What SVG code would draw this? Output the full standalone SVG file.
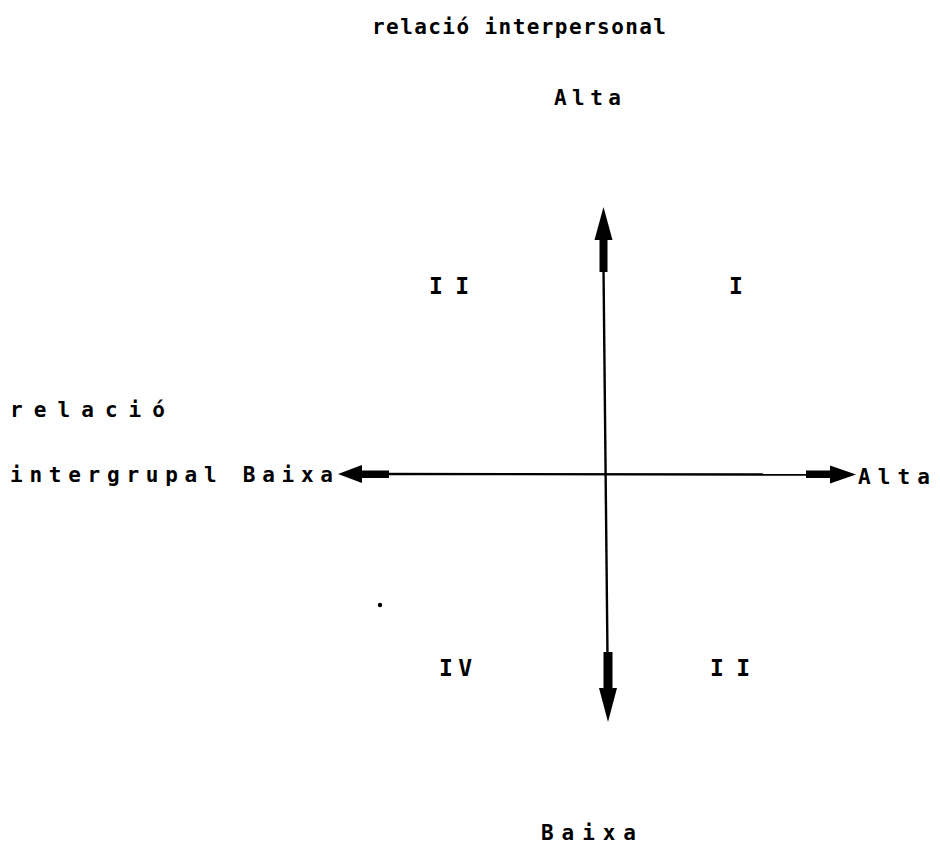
<svg xmlns="http://www.w3.org/2000/svg" width="940" height="867" viewBox="0 0 940 867">
<style>
text{font-family:"DejaVu Sans Mono","Liberation Mono",monospace;font-weight:bold;font-size:21px;fill:#000}
.q{font-size:23px}
.thin{stroke:#000;stroke-width:2.4;fill:none}
.thick{fill:#000;stroke:none}
</style>
<rect width="940" height="867" fill="#fff"/>
<g id="connectors">
  <g id="vertical-axis">
    <path class="thin" d="M603.5 268 L607.5 656"/>
    <rect class="thick" x="599.5" y="236" width="8" height="36"/>
    <polygon class="thick" points="603.5,207 594.5,240 612.5,240"/>
    <rect class="thick" x="603.5" y="652" width="9" height="38"/>
    <polygon class="thick" points="599,688 617,688 608,722"/>
  </g>
  <g id="horizontal-axis">
    <path class="thin" d="M380 474 L812 474.5"/>
    <rect class="thick" x="355" y="470.5" width="34" height="7.5"/>
    <polygon class="thick" points="338,474 362,465 362,483"/>
    <rect class="thick" x="806" y="470.5" width="28" height="7.5"/>
    <polygon class="thick" points="830,465.5 830,483.5 856,474.5"/>
  </g>
</g>
<g id="title-y"><text x="372" y="34" textLength="294" lengthAdjust="spacing">relació interpersonal</text></g>
<g id="y-high"><text x="554" y="105" textLength="67" lengthAdjust="spacing">Alta</text></g>
<g id="y-low"><text x="541" y="840" textLength="95" lengthAdjust="spacing">Baixa</text></g>
<g id="title-x1"><text x="10" y="417" textLength="155" lengthAdjust="spacing">relació</text></g>
<g id="title-x2"><text x="10" y="482" textLength="323" lengthAdjust="spacing">intergrupal Baixa</text></g>
<g id="x-high"><text x="858" y="484" textLength="72" lengthAdjust="spacing">Alta</text></g>
<g id="q-II-top"><text class="q" x="429" y="294" textLength="40" lengthAdjust="spacing">II</text></g>
<g id="q-I"><text class="q" x="729" y="294">I</text></g>
<g id="q-IV"><text class="q" x="439" y="676" textLength="33" lengthAdjust="spacing">IV</text></g>
<g id="q-II-bottom"><text class="q" x="710" y="676" textLength="40" lengthAdjust="spacing">II</text></g>
<circle cx="380" cy="605" r="2.2" fill="#000"/>
</svg>
